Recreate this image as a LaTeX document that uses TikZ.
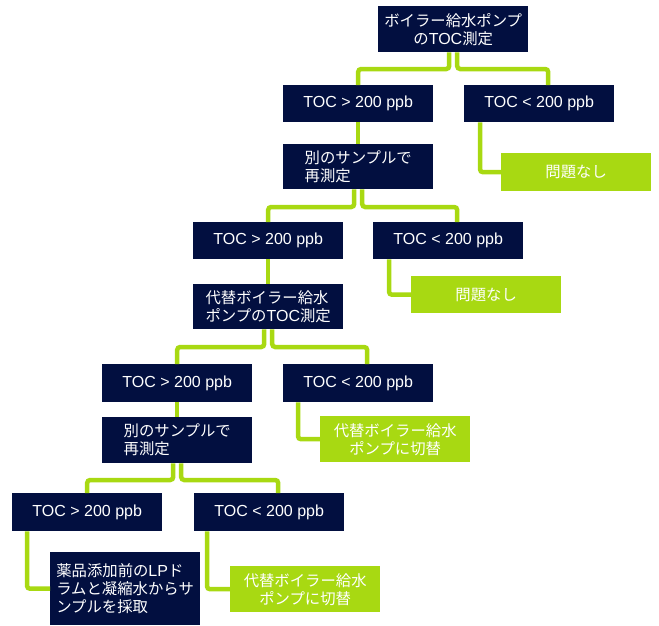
\documentclass[tikz,border=0pt]{standalone}
\usepackage{fontspec}
\setmainfont{Liberation Sans}
\newfontfamily\jp[Scale=0.96]{Noto Sans CJK JP}
\usetikzlibrary{calc}
\definecolor{navy}{HTML}{020F40}
\definecolor{lime}{HTML}{A8D912}
\newcommand\mybranch[4]{%
  \coordinate (yl) at (0,#4);
  \coordinate (pl) at ($(#1.south)+(-4,0)$);
  \coordinate (pr) at ($(#1.south)+(4,0)$);
  \coordinate (cr) at ($(#3.north)+(9,0)$);
  \draw[link] (pl) -- (pl |- yl) -- (#2.north |- yl) -- (#2.north);
  \draw[link] (pr) -- (pr |- yl) -- (cr |- yl) -- (cr);
}
\newcommand\myside[3]{%
  \coordinate (sd) at ($(#1.south west)+(#3,0)$);
  \draw[link] (sd) -- (sd |- #2.west) -- (#2.west);
}
\begin{document}
\begin{tikzpicture}[x=1pt,y=-1pt,
  box/.style={fill=navy,text=white,minimum width=150pt,inner sep=2pt,anchor=north west,
    font=\fontsize{16}{18}\selectfont,align=center},
  gbox/.style={box,fill=lime},
  link/.style={draw=lime,line width=4.5pt,rounded corners=3pt}]
\useasboundingbox (0,0) rectangle (659,625);

\path
  (378,6) node[box,minimum height=46pt] (t0) {{\jp ボイラー給水ポンプ}\\{\jp の}TOC{\jp 測定}}
  (283,85) node[box,minimum height=37pt] (l1a) {TOC > 200 ppb}
  (464,85) node[box,minimum height=37pt] (l1b) {TOC < 200 ppb}
  (501,153) node[gbox,minimum height=38pt] (g1) {\jp 問題なし}
  (283,144) node[box,minimum height=45pt,align=left] (r1) {{\jp 別のサンプルで}\\{\jp 再測定}}
  (193,222) node[box,minimum height=37pt] (l2a) {TOC > 200 ppb}
  (373,222) node[box,minimum height=37pt] (l2b) {TOC < 200 ppb}
  (411,276) node[gbox,minimum height=37pt] (g2) {\jp 問題なし}
  (193,284) node[box,minimum height=45pt,align=left] (a2) {{\jp 代替ボイラー給水}\\{\jp ポンプの}TOC{\jp 測定}}
  (102,364) node[box,minimum height=38pt] (l3a) {TOC > 200 ppb}
  (283,364) node[box,minimum height=38pt] (l3b) {TOC < 200 ppb}
  (320,416) node[gbox,minimum height=46pt] (g3) {{\jp 代替ボイラー給水}\\{\jp ポンプに切替}}
  (102,417) node[box,minimum height=46pt,align=left] (r3) {{\jp 別のサンプルで}\\{\jp 再測定}}
  (12,493) node[box,minimum height=38pt] (l4a) {TOC > 200 ppb}
  (194,493) node[box,minimum height=38pt] (l4b) {TOC < 200 ppb}
  (50,552) node[box,minimum height=73pt,align=left] (d4) {{\jp 薬品添加前の}LP{\jp ド}\\{\jp ラムと凝縮水からサ}\\{\jp ンプルを採取}}
  (230,566) node[gbox,minimum height=46pt] (g4) {{\jp 代替ボイラー給水}\\{\jp ポンプに切替}};

\mybranch{t0}{l1a}{l1b}{69}
\myside{l1b}{g1}{16}
\draw[link] (l1a.south) -- (r1.north);
\mybranch{r1}{l2a}{l2b}{207}
\myside{l2b}{g2}{16}
\draw[link] (l2a.south) -- (a2.north);
\mybranch{a2}{l3a}{l3b}{347}
\myside{l3b}{g3}{15}
\draw[link] (l3a.south) -- (r3.north);
\mybranch{r3}{l4a}{l4b}{480}
\myside{l4a}{d4}{15}
\myside{l4b}{g4}{13}
\end{tikzpicture}
\end{document}
